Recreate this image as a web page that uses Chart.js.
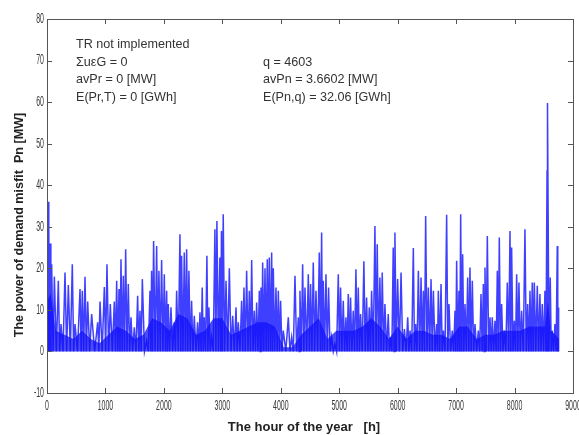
<!DOCTYPE html>
<html>
<head>
<meta charset="utf-8">
<script src="https://cdn.jsdelivr.net/npm/chart.js@4"></script>
<style>
html,body{margin:0;padding:0;background:#fff;}
#wrap{width:579px;height:435px;position:relative;}
</style>
</head>
<body>
<div id="wrap"><canvas id="c" width="579" height="435"></canvas></div>
<script>
// Peak hours of the spikes
const peakHours = [0,20,34,52,80,126,194,240,308,365,433,479,565,604,650,696,764,867,907,981,1026,1083,1152,1192,1232,1266,1306,1346,1391,1437,1494,1551,1591,1631,1705,1762,1790,1824,1876,1915,1961,2007,2047,2075,2121,2178,2218,2275,2303,2349,2389,2428,2474,2520,2577,2617,2656,2691,2736,2770,2816,2873,2907,2958,2985,3015,
3063,3120,3177,3234,3273,3330,3370,3416,3462,3502,3547,3587,3633,3661,3690,3730,3769,3804,3844,3872,3918,3958,3997,4043,4129,4186,4243,4300,4328,4374,4414,4471,4510,4556,4602,4659,4699,4727,4773,4818,4870,4927,4984,5023,5069,5115,5155,5194,5240,5286,5326,5365,5422,5468,5514,5554,5611,5650,5696,5736,5782,5839,5878,5924,5953,
6000,6058,6115,6172,6212,6268,6308,6354,6400,6440,6479,6525,6571,6611,6667,6696,6742,6782,6838,6878,6935,6981,7009,7049,7078,7112,7152,7198,7237,7277,7323,7380,7426,7466,7494,7534,7580,7619,7665,7705,7739,7779,7825,7876,7922,7950,7996,8036,8075,8121,8178,8224,8264,8303,8338,8389,8434,8474,8520,8556,8566,8611,8645,8691,8731,8748];
// Peak values [MW]
const peakMW = [26,36,30,26,21,18,17,6.6,19,16,21,6.6,15,14.6,18,12,9,7,12,15.5,21,11.4,12,17,15,22.2,18.2,24.6,16.2,8.2,5.8,13.4,9.8,17.4,2.6,14.6,19.4,26.6,25.4,19.4,22,18.6,14.6,11.4,10.6,7,14.6,28.2,23,23.8,24.6,19.4,12.2,8.6,7,9.4,15.4,8.2,23,10.6,3.4,29.4,31.4,22.6,29,33,
17,20,8.6,10.6,7,12.2,15.4,19.4,14.6,22,9.8,11.8,14.6,15.4,21.4,20,22.2,22.6,23.8,20,15.4,14.6,12.2,5,8.2,3.4,18.2,8.2,14.6,21,15.4,18.6,16.2,21.4,14.6,23.8,28.6,17,18.6,15.4,3.4,1.8,18.6,15.4,12.2,8.2,13.8,13,9.8,19.8,15.4,9,21.7,13,10.6,14.6,30.2,25.8,17.8,19,11.4,9,3.4,25,28.6,
17.4,19,5.4,8.2,5,24.9,6.6,19.4,17.8,14.6,32.6,15.4,17.4,14.6,6.6,14.6,16.2,5,32.9,11.4,5,9.8,21.8,14.6,33,23.4,11.4,17.8,20.2,17,6.6,5,13.8,16.2,20.2,27.8,8.2,8.2,7.4,19.4,27.4,11.4,5,16.6,29,25,7.4,18.6,16.6,9.8,29.4,11.4,14.6,16.6,16.6,15.8,13.8,11.4,14.6,43.6,59.8,17.8,5,6.6,25.4,10.6];
// The series drops back to this level between spikes
const baseMW = 0;
// Height of the dense (solid) blue band near zero
const bandHours = [0,60,150,300,450,600,750,900,1050,1200,1350,1500,1650,1800,1950,2100,2250,2400,2550,2700,2850,3000,3150,3300,3450,3600,3750,3900,4050,4200,4350,4500,4650,4800,4950,5100,5250,5400,5550,5700,5850,6000,6150,6300,6450,6600,6750,6900,7050,7200,7350,7500,7650,7800,7950,8100,8250,8400,8520,8570,8620,8700,8760];
const bandMW = [12,14,5,4,3,5,3,2,4,6,5,3,4,8,7,5,9,8,4,5,8,8,4,5,6,7,7,6,1,1,4,6,8,3,5,5,5,6,8,6,3,6,3,5,5,4,4,3,6,6,3,4,4,5,5,5,6,6,6,12,5,4,3];
const xTicks = [0,1000,2000,3000,4000,5000,6000,7000,8000,9000];
const yTicks = [-10,0,10,20,30,40,50,60,70,80];
const notesLeft = ["TR not implemented","\u03A3u\u03B5G = 0","avPr = 0 [MW]","E(Pr,T) = 0 [GWh]"];
const notesRight = ["q = 4603","avPn = 3.6602 [MW]","E(Pn,q) = 32.06 [GWh]"];

const pts = [];
for (let i = 0; i < peakHours.length; i++) {
  pts.push({x: peakHours[i], y: peakMW[i]});
  const next = i + 1 < peakHours.length ? peakHours[i + 1] : 8760;
  pts.push({x: (peakHours[i] + next) / 2, y: baseMW});
}
const band = bandHours.map((h, i) => ({x: h, y: bandMW[i]}));

const frame = {
  id: 'frame',
  afterDraw(chart) {
    const {ctx, chartArea: a, scales: {x, y}} = chart;
    ctx.save();
    ctx.strokeStyle = '#555';
    ctx.lineWidth = 1;
    ctx.strokeRect(Math.round(a.left) + 0.5, Math.round(a.top) + 0.5, Math.round(a.right - a.left), Math.round(a.bottom - a.top));
    ctx.beginPath();
    xTicks.forEach(v => {
      const px = Math.round(x.getPixelForValue(v)) + 0.5;
      ctx.moveTo(px, a.bottom); ctx.lineTo(px, a.bottom - 5);
      ctx.moveTo(px, a.top); ctx.lineTo(px, a.top + 5);
    });
    yTicks.forEach(v => {
      const py = Math.round(y.getPixelForValue(v)) + 0.5;
      ctx.moveTo(a.left, py); ctx.lineTo(a.left + 5, py);
      ctx.moveTo(a.right, py); ctx.lineTo(a.right - 5, py);
    });
    ctx.stroke();
    // condensed tick labels
    ctx.fillStyle = '#3a3a3a';
    ctx.font = "14px 'Liberation Sans', Arial, sans-serif";
    ctx.textBaseline = 'middle';
    const sx = 0.5;
    xTicks.forEach(v => {
      const px = x.getPixelForValue(v);
      ctx.save();
      ctx.translate(px, 406);
      ctx.scale(sx, 1);
      ctx.textAlign = 'center';
      ctx.fillText(String(v), 0, 0);
      ctx.restore();
    });
    yTicks.forEach(v => {
      const py = y.getPixelForValue(v);
      ctx.save();
      ctx.translate(a.left - 3, py);
      ctx.scale(sx, 1);
      ctx.textAlign = 'right';
      ctx.fillText(String(v), 0, 0);
      ctx.restore();
    });
    // annotations
    ctx.fillStyle = '#333';
    ctx.font = "12.6px 'Liberation Sans', Arial, sans-serif";
    ctx.textAlign = 'left';
    const lys = [45, 63, 80, 98];
    notesLeft.forEach((t, i) => ctx.fillText(t, 76, lys[i]));
    notesRight.forEach((t, i) => ctx.fillText(t, 263, lys[i + 1]));
    // axis titles
    ctx.fillStyle = '#222';
    ctx.font = "bold 13px 'Liberation Sans', Arial, sans-serif";
    ctx.textAlign = 'center';
    ctx.fillText('The hour of the year   [h]', 304, 427);
    ctx.font = "bold 12.6px 'Liberation Sans', Arial, sans-serif";
    ctx.translate(20, 225);
    ctx.rotate(-Math.PI / 2);
    ctx.fillText('The power of demand misfit  Pn [MW]', 0, 0);
    ctx.restore();
  }
};

new Chart(document.getElementById('c'), {
  type: 'line',
  data: {
    datasets: [{
      data: pts,
      borderColor: 'rgba(15,15,255,0.8)',
      borderWidth: 1.5,
      pointRadius: 0,
      tension: 0,
      fill: false,
      order: 1
    }, {
      data: band,
      borderColor: 'rgba(0,0,0,0)',
      backgroundColor: 'rgba(0,0,235,0.7)',
      borderWidth: 0,
      pointRadius: 0,
      tension: 0,
      fill: 'origin',
      order: 2
    }]
  },
  options: {
    responsive: false,
    animation: false,
    events: [],
    layout: {padding: {top: 19, right: 6, left: 0, bottom: 0}},
    plugins: {legend: {display: false}, tooltip: {enabled: false}},
    scales: {
      x: {
        type: 'linear', min: 0, max: 9000,
        afterBuildTicks: s => { s.ticks = xTicks.map(v => ({value: v})); },
        afterFit: s => { s.height = 42; s.paddingLeft = 0; s.paddingRight = 0; },
        grid: {display: false, drawTicks: false},
        border: {display: false},
        ticks: {display: false}
      },
      y: {
        min: -10, max: 80,
        afterBuildTicks: s => { s.ticks = yTicks.map(v => ({value: v})); },
        afterFit: s => { s.width = 47; s.paddingTop = 0; s.paddingBottom = 0; },
        grid: {display: false, drawTicks: false},
        border: {display: false},
        ticks: {display: false}
      }
    }
  },
  plugins: [frame]
});
</script>
</body>
</html>
